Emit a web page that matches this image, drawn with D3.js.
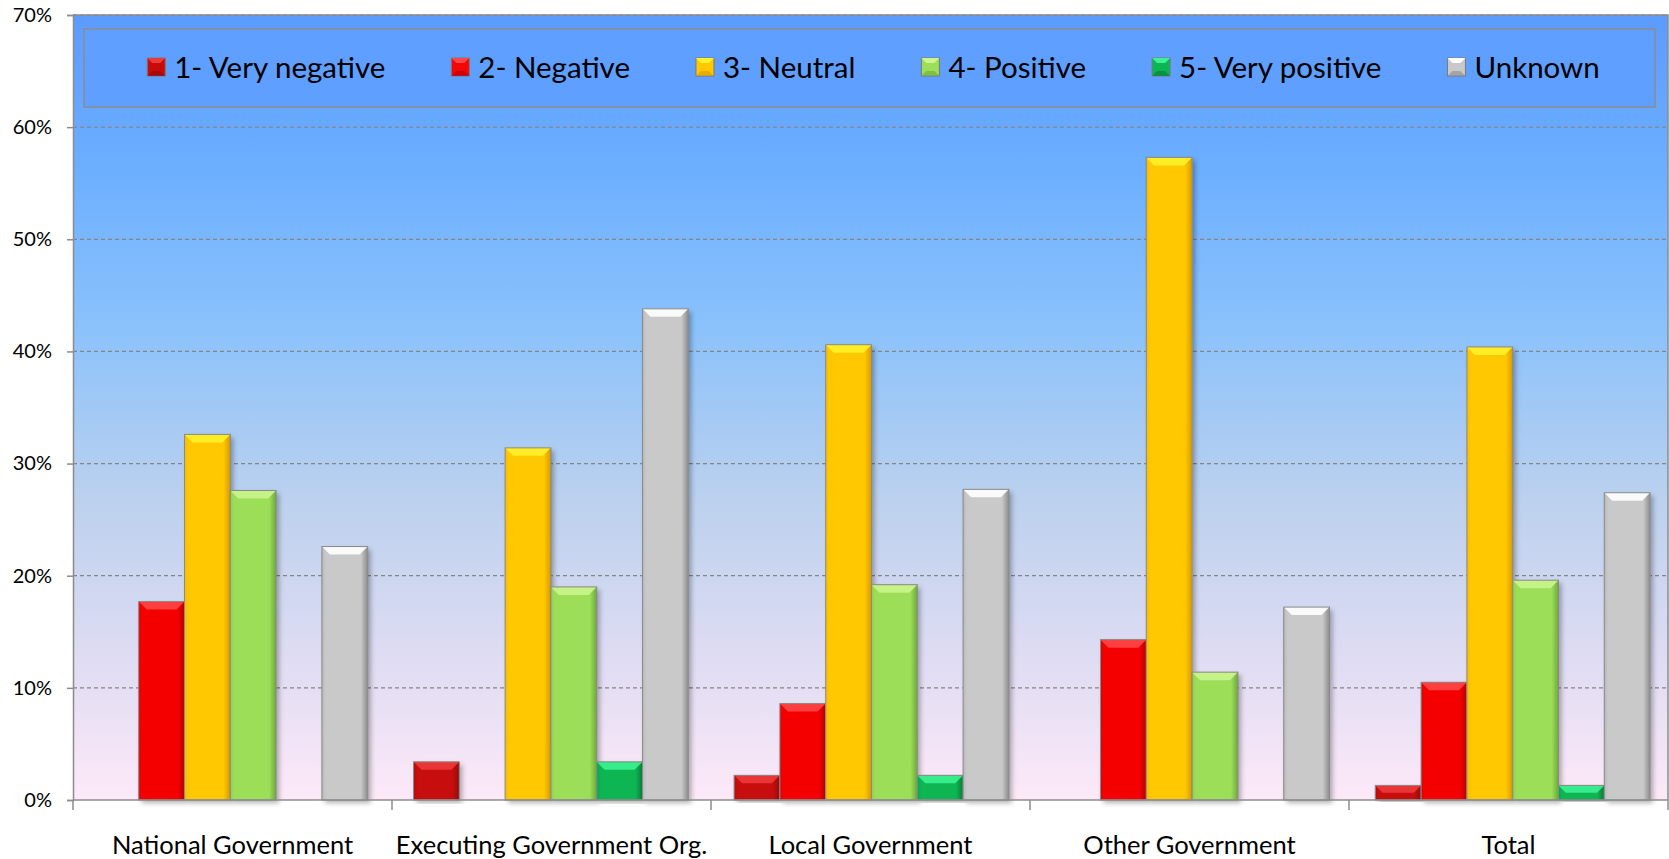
<!DOCTYPE html>
<html>
<head>
<meta charset="utf-8">
<script src="https://cdn.jsdelivr.net/npm/d3@7"></script>
<style>
  html, body { margin: 0; padding: 0; background: #ffffff; }
  svg { display: block; font-family: Lato, "Open Sans", sans-serif; }
</style>
</head>
<body>
<svg id="chart" width="1669" height="859"></svg>
<script>
// ---- data ----
const categories = ["National Government", "Executing Government Org.", "Local Government", "Other Government", "Total"];
const seriesNames = ["1- Very negative", "2- Negative", "3- Neutral", "4- Positive", "5- Very positive", "Unknown"];
const veryNegative = [0, 3.4, 2.2, 0, 1.3];
const negative = [17.7, 0, 8.6, 14.3, 10.5];
const neutral = [32.6, 31.4, 40.6, 57.3, 40.4];
const positive = [27.6, 19.0, 19.2, 11.4, 19.6];
const veryPositive = [0, 3.4, 2.2, 0, 1.3];
const unknown = [22.6, 43.8, 27.7, 17.2, 27.4];
const yTickValues = [0, 10, 20, 30, 40, 50, 60, 70];
const yTickLabels = ["0%", "10%", "20%", "30%", "40%", "50%", "60%", "70%"];

const seriesValues = [veryNegative, negative, neutral, positive, veryPositive, unknown];
// colors: [body, top bevel, dark edge]
const seriesColors = [
  ["#c70b0b", "#ec3a3a", "#8f0606"],
  ["#f50505", "#ff4646", "#b50000"],
  ["#ffc800", "#fff22a", "#d99a00"],
  ["#9cde58", "#cbf58e", "#6ea83a"],
  ["#0ab552", "#3cf290", "#067a36"],
  ["#c9c9c9", "#ffffff", "#8c8c8c"]
];

// ---- layout ----
const plot = { left: 73, right: 1668, top: 15, bottom: 800 };
const svg = d3.select("#chart");
const defs = svg.append("defs");

const bgGrad = defs.append("linearGradient").attr("id", "bg")
  .attr("x1", 0).attr("y1", 0).attr("x2", 0).attr("y2", 1);
[[0, "#5b9bff"], [0.2, "#6dafff"], [0.4, "#8bc2fb"], [0.62, "#bcd1ee"], [0.82, "#dfdcf3"], [1, "#fde9f8"]]
  .forEach(([o, c]) => bgGrad.append("stop").attr("offset", o).attr("stop-color", c));

const shadow = defs.append("filter").attr("id", "shadow")
  .attr("x", "-20%").attr("y", "-5%").attr("width", "150%").attr("height", "115%");
shadow.append("feDropShadow").attr("dx", 3).attr("dy", 3).attr("stdDeviation", 2.5)
  .attr("flood-color", "#000").attr("flood-opacity", 0.3);

seriesColors.forEach((c, i) => {
  const g = defs.append("linearGradient").attr("id", "bar" + i)
    .attr("x1", 0).attr("y1", 0).attr("x2", 1).attr("y2", 0);
  g.append("stop").attr("offset", 0).attr("stop-color", c[0]);
  g.append("stop").attr("offset", 0.08).attr("stop-color", c[0]);
  g.append("stop").attr("offset", 0.85).attr("stop-color", c[0]);
  g.append("stop").attr("offset", 1).attr("stop-color", c[2]);
  const lg = defs.append("linearGradient").attr("id", "left" + i)
    .attr("x1", 0).attr("y1", 0).attr("x2", 1).attr("y2", 0);
  lg.append("stop").attr("offset", 0).attr("stop-color", c[2]).attr("stop-opacity", 0.35);
  lg.append("stop").attr("offset", 1).attr("stop-color", c[0]).attr("stop-opacity", 0);
});

// ---- scales ----
const x0 = d3.scaleBand().domain(categories).range([plot.left, plot.right]).padding(0);
const xBars = d3.scaleBand().domain(categories).range([plot.left - 3, plot.right + 5]).padding(0);
const x1 = d3.scaleBand().domain(seriesNames).range([0, xBars.bandwidth()]).paddingInner(0).paddingOuter(0.5);
const y = d3.scaleLinear().domain([0, 70]).range([plot.bottom, plot.top]);

// plot background
svg.append("rect").attr("x", plot.left).attr("y", plot.top)
  .attr("width", plot.right - plot.left).attr("height", plot.bottom - plot.top)
  .attr("fill", "url(#bg)");

// gridlines
svg.append("g").selectAll("line").data(yTickValues.filter(v => v > 0)).join("line")
  .attr("x1", plot.left).attr("x2", plot.right)
  .attr("y1", d => y(d)).attr("y2", d => y(d))
  .attr("stroke", "#858585").attr("stroke-width", 1.2).attr("stroke-dasharray", "4,3");

// plot border (top/right)
svg.append("path")
  .attr("d", `M${plot.left},${plot.top}H${plot.right}V${plot.bottom}`)
  .attr("fill", "none").attr("stroke", "#8c8c8c").attr("stroke-width", 1.5);

// y axis
const yAxis = d3.axisLeft(y).tickValues(yTickValues)
  .tickFormat((d, i) => yTickLabels[i]).tickSize(6).tickPadding(15);
const yg = svg.append("g").attr("transform", `translate(${plot.left},0)`).call(yAxis);
yg.select(".domain").attr("stroke", "#8c8c8c").attr("stroke-width", 1.5);
yg.selectAll(".tick line").attr("stroke", "#8c8c8c").attr("stroke-width", 1.5);
yg.selectAll(".tick text").attr("font-size", 20).attr("fill", "#000")
  .attr("font-family", "Lato, sans-serif");

// bars
const barsG = svg.append("g");
categories.forEach((cat, ci) => {
  seriesNames.forEach((s, si) => {
    const v = seriesValues[si][ci];
    if (!(v > 0)) return;
    const bx = xBars(cat) + x1(s);
    const bw = x1.bandwidth();
    const by = y(v);
    const bh = y(0) - by;
    const g = barsG.append("g");
    g.append("rect").attr("x", bx).attr("y", by).attr("width", bw).attr("height", bh)
      .attr("fill", "url(#bar" + si + ")").attr("filter", "url(#shadow)");
    g.append("rect").attr("x", bx).attr("y", by).attr("width", 5).attr("height", bh)
      .attr("fill", "url(#left" + si + ")");
    const bev = Math.min(8, bh / 2);
    g.append("path")
      .attr("d", `M${bx},${by}H${bx + bw}L${bx + bw - bev},${by + bev}H${bx + bev}Z`)
      .attr("fill", seriesColors[si][1]).attr("opacity", 0.9);
    g.append("rect").attr("x", bx).attr("y", by).attr("width", bw).attr("height", bh)
      .attr("fill", "none").attr("stroke", "#8a8a8a").attr("stroke-width", 1);
  });
});

// x axis
const xAxisLine = svg.append("g");
xAxisLine.append("line").attr("x1", plot.left).attr("x2", plot.right)
  .attr("y1", plot.bottom).attr("y2", plot.bottom)
  .attr("stroke", "#8c8c8c").attr("stroke-width", 1.5);
const bounds = categories.map(c => x0(c)).concat([x0(categories[categories.length - 1]) + x0.bandwidth()]);
xAxisLine.selectAll("line.tick").data(bounds).join("line").attr("class", "tick")
  .attr("x1", d => d).attr("x2", d => d)
  .attr("y1", plot.bottom).attr("y2", plot.bottom + 10)
  .attr("stroke", "#8c8c8c").attr("stroke-width", 1.5);
svg.append("g").selectAll("text").data(categories).join("text")
  .attr("x", d => x0(d) + x0.bandwidth() / 2).attr("y", 854)
  .attr("text-anchor", "middle").attr("font-size", 25.5).attr("fill", "#000")
  .text(d => d);

// legend
const legend = { left: 84, top: 29, right: 1655, bottom: 107 };
svg.append("rect").attr("x", legend.left).attr("y", legend.top)
  .attr("width", legend.right - legend.left).attr("height", legend.bottom - legend.top)
  .attr("fill", "#5f9fff").attr("stroke", "#8c8c8c").attr("stroke-width", 1.5);
const lg = svg.append("g");
const legendFont = 29.5, markerSize = 18, markerGap = 9;
const items = seriesNames.map((s, i) => {
  const t = lg.append("text").attr("font-size", legendFont).attr("fill", "#000")
    .attr("dominant-baseline", "central").text(s);
  const w = t.node().getComputedTextLength();
  return { s, i, t, w: markerSize + markerGap + w };
});
const totalW = d3.sum(items, d => d.w);
const gap = 66;
let cx = (legend.left + legend.right) / 2 - (totalW + gap * (items.length - 1)) / 2 + 4;
const cy = (legend.top + legend.bottom) / 2 - 2;
items.forEach(it => {
  const c = seriesColors[it.i];
  const mx = cx, my = cy - markerSize / 2 + 1, b = 5;
  lg.append("rect").attr("x", mx).attr("y", my).attr("width", markerSize).attr("height", markerSize)
    .attr("fill", c[0]).attr("stroke", "#7a7a7a").attr("stroke-width", 1);
  lg.append("path").attr("d", `M${mx},${my}H${mx + markerSize}L${mx + markerSize - b},${my + b}H${mx + b}Z`)
    .attr("fill", c[1]);
  lg.append("path").attr("d", `M${mx + markerSize},${my + markerSize}H${mx}L${mx + b},${my + markerSize - b}H${mx + markerSize - b}Z`)
    .attr("fill", c[2]).attr("opacity", 0.6);
  it.t.attr("x", mx + markerSize + markerGap).attr("y", cy);
  cx += it.w + gap;
});
</script>
</body>
</html>
